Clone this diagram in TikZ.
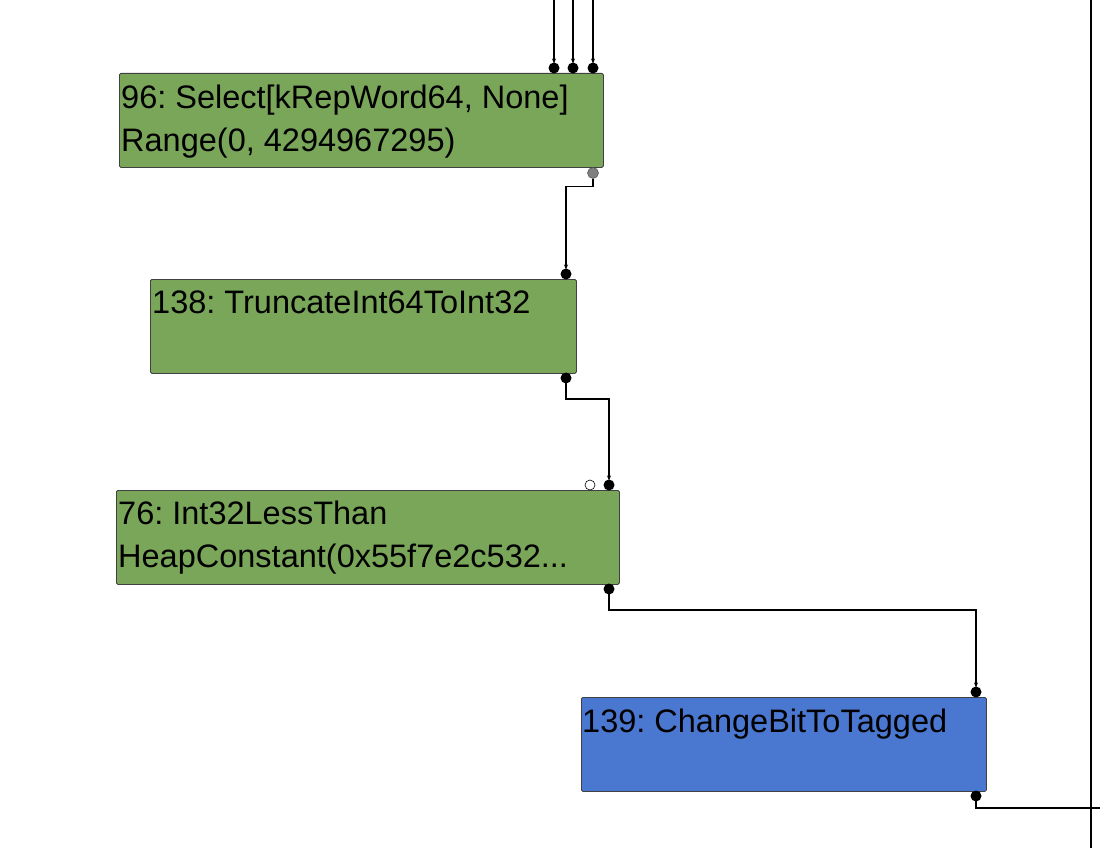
\documentclass[tikz,border=0pt]{standalone}
\usepackage{fontspec}
\setmainfont{Liberation Sans}
\usetikzlibrary{arrows.meta,positioning}

\definecolor{opgreen}{RGB}{122,166,90}
\definecolor{opblue}{RGB}{74,119,208}

\tikzset{
	opbox/.style={draw=black!75, rounded corners=1.5pt, line width=0.8pt, minimum height=94pt, inner sep=0pt, anchor=north west},
	optext/.style={anchor=base west, inner sep=0pt, font=\fontsize{32.5}{42}\selectfont\frenchspacing},
	port/.style={circle, fill=black, inner sep=0pt, minimum size=11pt},
	wire/.style={line width=1.1pt, -{Stealth[length=5pt,width=4pt]}, shorten >=4.5pt},
}

\begin{document}
\begin{tikzpicture}[x=1pt,y=-1pt]
	\useasboundingbox (0,0) rectangle (1100,848);

	% operation boxes
	\node[opbox, fill=opgreen, minimum width=484pt] (n96) at (119,73) {};
	\node[opbox, fill=opgreen, minimum width=426pt] (n138) at (150,279) {};
	\node[opbox, fill=opgreen, minimum width=503pt] (n76) at (116,490) {};
	\node[opbox, fill=opblue, minimum width=405pt] (n139) at (581,697) {};

	\node[optext] (t96a) at (121,109) {96: Select[kRepWord64, None]};
	\node[optext] (t96b) at (121,151) {Range(0, 4294967295)};
	\node[optext] (t138) at (152,313) {138: TruncateInt64ToInt32};
	\node[optext] (t76a) at (118,524) {76: Int32LessThan};
	\node[optext] (t76b) at (118,567) {HeapConstant(0x55f7e2c532...};
	\node[optext] (t139) at (582,732) {139: ChangeBitToTagged};

	% free ends
	\coordinate (topa) at (554,0);
	\coordinate (topb) at (573,0);
	\coordinate (topc) at (593,0);
	\coordinate (railtop) at (1091,0);
	\coordinate (railbot) at (1091,848);
	\coordinate (exit) at (1100,808);

	% ports
	\node[port] (in96a) at (554,68) {};
	\node[port] (in96b) at (573,68) {};
	\node[port] (in96c) at (593,68) {};
	\node[port, fill=black!50, draw=black!70, line width=0.5pt] (out96) at (593,173) {};
	\node[port] (in138) at (566,274) {};
	\node[port] (out138) at (566,378) {};
	\node[port, fill=white, draw=black, line width=0.6pt, minimum size=10pt] (in76a) at (590,485) {};
	\node[port] (in76b) at (609,485) {};
	\node[port] (out76) at (609,589) {};
	\node[port] (in139) at (976,692) {};
	\node[port] (out139) at (976,796) {};

	% wires
	\draw[wire] (topa) -- (in96a.center);
	\draw[wire] (topb) -- (in96b.center);
	\draw[wire] (topc) -- (in96c.center);
	\draw[wire] (out96.south) -- ++(0,8) -| (in138.center);
	\draw[wire] (out138.center) -- ++(0,21) -| (in76b.center);
	\draw[wire] (out76.center) -- ++(0,21) -| (in139.center);
	\draw[line width=1.1pt] (out139.center) |- (exit);
	\draw[line width=1.1pt] (railtop) -- (railbot);
\end{tikzpicture}
\end{document}
